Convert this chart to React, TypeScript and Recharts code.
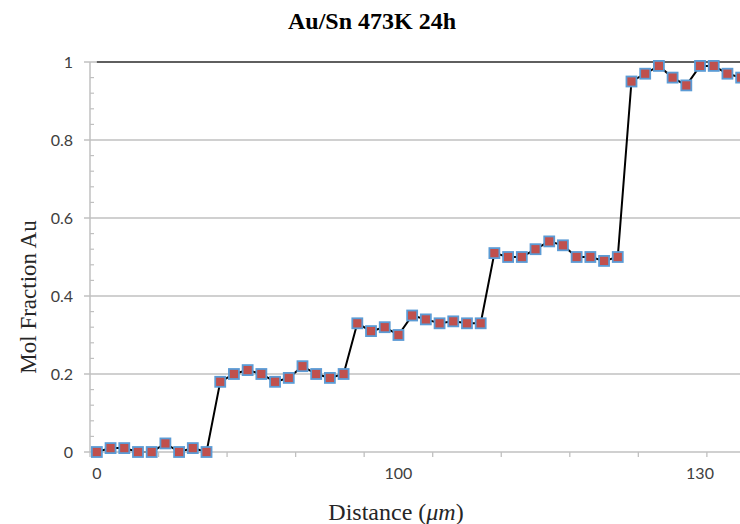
import React from 'react';
import { LineChart, Line, XAxis, YAxis, ReferenceLine } from 'recharts';

// measurement point index along the scan
const pointIndex = [
  0, 1, 2, 3, 4, 5, 6, 7, 8, 9, 10, 11, 12, 13, 14, 15, 16, 17, 18, 19, 20, 21, 22, 23,
  24, 25, 26, 27, 28, 29, 30, 31, 32, 33, 34, 35, 36, 37, 38, 39, 40, 41, 42, 43, 44, 45, 46, 47,
];

const molFractionAu = [
  0, 0.01, 0.01, 0, 0, 0.022, 0, 0.01, 0,
  0.18, 0.2, 0.21, 0.2, 0.18, 0.19, 0.22, 0.2, 0.19, 0.2,
  0.33, 0.31, 0.32, 0.3, 0.35, 0.34, 0.33, 0.335, 0.33, 0.33,
  0.51, 0.5, 0.5, 0.52, 0.54, 0.53, 0.5, 0.5, 0.49, 0.5,
  0.95, 0.97, 0.99, 0.96, 0.94, 0.99, 0.99, 0.97, 0.96,
];

// x axis: tick marks between points, labels under a few points
const xTickMarks = [-0.5, 4.5, 9.5, 14.5, 19.5, 24.5, 29.5, 34.5, 39.5, 44.5];
const xLabelAt = [0, 22, 44];
const xLabelText = ['0', '100', '130'];

const yMajorTicks = [0, 0.2, 0.4, 0.6, 0.8, 1];
const yMinorTicks = [
  0.04, 0.08, 0.12, 0.16, 0.24, 0.28, 0.32, 0.36, 0.44, 0.48, 0.52, 0.56,
  0.64, 0.68, 0.72, 0.76, 0.84, 0.88, 0.92, 0.96,
];
const gridLevels = [0.2, 0.4, 0.6, 0.8, 1];

const data = pointIndex.map((p, i) => ({ p, au: molFractionAu[i] }));

const GRID = '#c0c0c0';
const TICK_FONT = 'Lato, "Open Sans", sans-serif';
const SERIF = '"Liberation Serif", "Times New Roman", serif';

const XTick = (props: any) => {
  const { x, y, payload } = props;
  const v = payload.value;
  const li = xLabelAt.indexOf(v);
  if (li >= 0) {
    return (
      <text x={x} y={y + 27} textAnchor="middle" fontFamily={TICK_FONT} fontSize={16} fill="#404040">
        {xLabelText[li]}
      </text>
    );
  }
  return <line x1={x} x2={x} y1={y} y2={y + 5} stroke={GRID} strokeWidth={1.3} />;
};

const YTick = (props: any) => {
  const { x, y, payload } = props;
  const v = payload.value;
  if (yMajorTicks.includes(v)) {
    return (
      <g>
        <line x1={x - 6} x2={x} y1={y} y2={y} stroke={GRID} strokeWidth={1.5} />
        <text x={x - 17} y={y + 6} textAnchor="end" fontFamily={TICK_FONT} fontSize={16} fill="#404040">
          {String(v)}
        </text>
      </g>
    );
  }
  return <line x1={x} x2={x + 4} y1={y} y2={y} stroke={GRID} strokeWidth={1.2} />;
};

const SquareDot = (props: any) => {
  const { cx, cy, index } = props;
  if (cx == null || cy == null) return <g key={index} />;
  return (
    <rect
      key={index}
      x={cx - 5}
      y={cy - 5}
      width={10}
      height={10}
      fill="#c0504d"
      stroke="#5b9bd5"
      strokeWidth={1.8}
    />
  );
};

export default function App() {
  return (
    <div
      style={{
        position: 'fixed',
        left: 0,
        top: 0,
        width: 740,
        height: 524,
        overflow: 'hidden',
        background: '#fff',
      }}
    >
      <LineChart
        width={750}
        height={524}
        data={data}
        margin={{ top: 62, right: 2, bottom: 42, left: 0 }}
      >
        <XAxis
          dataKey="p"
          type="number"
          domain={[-0.5, 47.5]}
          ticks={[...xTickMarks, ...xLabelAt].sort((a, b) => a - b)}
          interval={0}
          tick={<XTick />}
          tickLine={false}
          tickSize={0}
          tickMargin={0}
          height={30}
          axisLine={{ stroke: GRID, strokeWidth: 1.5 }}
        />
        <YAxis
          type="number"
          domain={[0, 1]}
          ticks={[...yMajorTicks, ...yMinorTicks].sort((a, b) => a - b)}
          interval={0}
          tick={<YTick />}
          tickLine={false}
          tickSize={0}
          tickMargin={0}
          width={90}
          axisLine={{ stroke: GRID, strokeWidth: 1.5 }}
        />
        {gridLevels.map((g) => (
          <ReferenceLine key={g} y={g} stroke={GRID} strokeWidth={1.5} />
        ))}
        <ReferenceLine
          segment={[
            { x: 0, y: 1 },
            { x: 47.5, y: 1 },
          ]}
          stroke="#3a3a3a"
          strokeWidth={1.5}
        />
        <Line
          dataKey="au"
          stroke="#000"
          strokeWidth={2}
          dot={<SquareDot />}
          activeDot={false}
          isAnimationActive={false}
        />
      </LineChart>
      <svg
        width={740}
        height={524}
        style={{ position: 'absolute', left: 0, top: 0, pointerEvents: 'none' }}
      >
        <text x={372} y={29} textAnchor="middle" fontFamily={SERIF} fontWeight="bold" fontSize={24} fill="#000">
          Au/Sn 473K 24h
        </text>
        <text x={396} y={520} textAnchor="middle" fontFamily={SERIF} fontSize={24} fill="#262626">
          Distance (<tspan fontStyle="italic">μm</tspan>)
        </text>
        <text
          x={0}
          y={0}
          transform="translate(36, 297) rotate(-90)"
          textAnchor="middle"
          fontFamily={SERIF}
          fontSize={23}
          fill="#262626"
        >
          Mol Fraction Au
        </text>
      </svg>
    </div>
  );
}
